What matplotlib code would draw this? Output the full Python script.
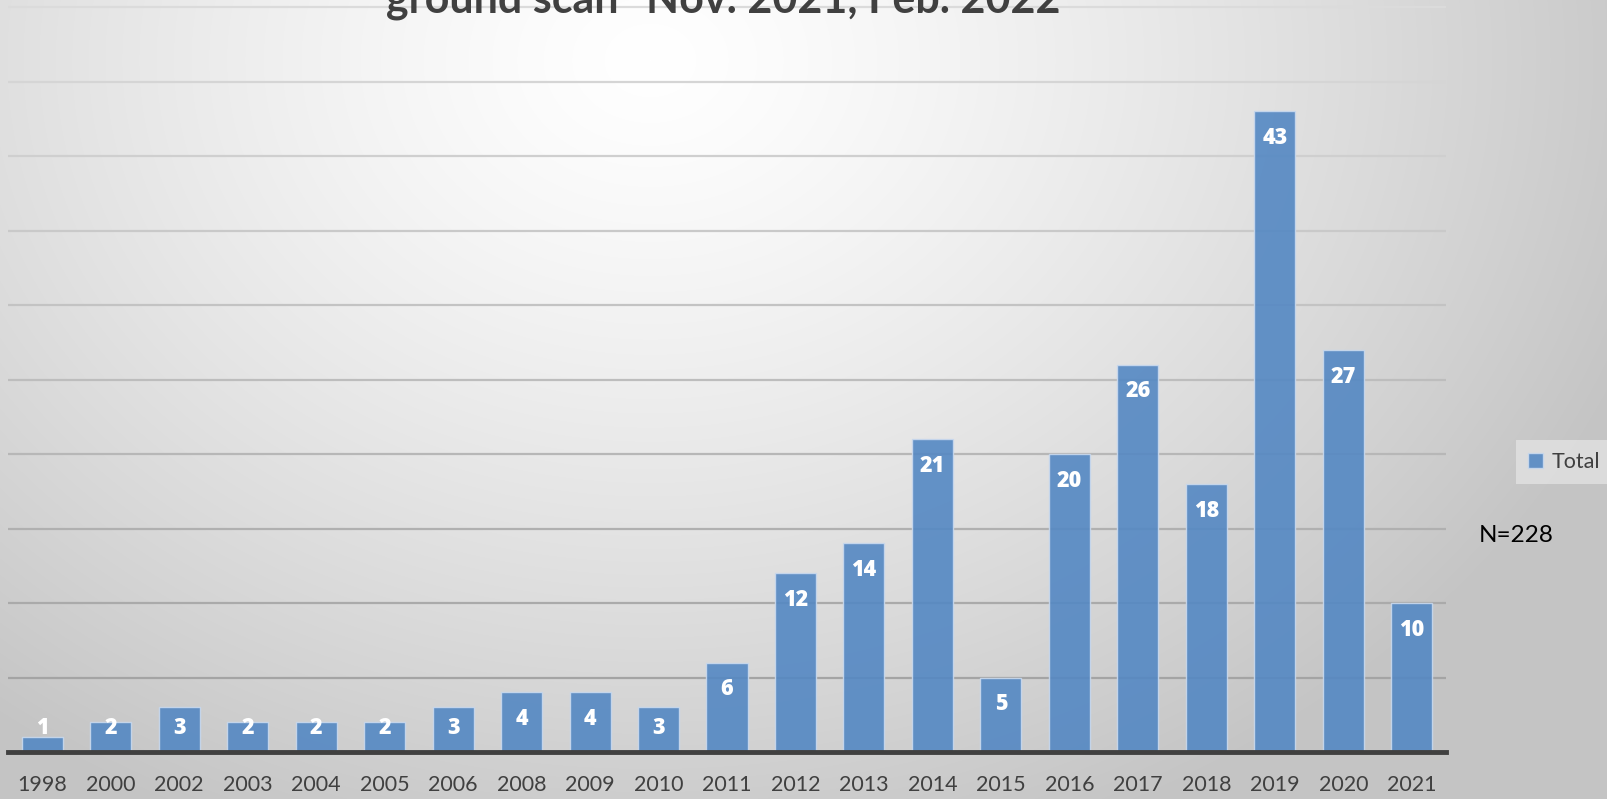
import matplotlib
matplotlib.use("Agg")
import matplotlib.pyplot as plt
import numpy as np

years = ["1998", "2000", "2002", "2003", "2004", "2005", "2006", "2008", "2009", "2010",
         "2011", "2012", "2013", "2014", "2015", "2016", "2017", "2018", "2019", "2020", "2021"]
totals = [1, 2, 3, 2, 2, 2, 3, 4, 4, 3, 6, 12, 14, 21, 5, 20, 26, 18, 43, 27, 10]
grid_levels = [5, 10, 15, 20, 25, 30, 35, 40, 45, 50]
title_text = "ground scan\" Nov. 2021, Feb. 2022"
legend_label = "Total"
note_text = "N=228"

plt.rcParams["font.family"] = ["Lato", "DejaVu Sans"]

fig = plt.figure(figsize=(16.08, 7.99), dpi=100)

# background: soft radial gradient, white near top centre, grey at the edges
bg = fig.add_axes([0, 0, 1, 1], zorder=-10)
h, w = 799, 1608
yy, xx = np.mgrid[0:h, 0:w]
d = np.sqrt(((xx - 650) / 1.0) ** 2 + ((yy - 60) * 1.25) ** 2)
d = np.clip(d / 1050.0, 0, 1)
shade = 1.0 - 0.23 * d ** 1.3
img = np.dstack([shade, shade, shade])
bg.imshow(img, extent=[0, 1, 0, 1], aspect="auto", origin="upper")
bg.axis("off")

ax = fig.add_axes([8 / 1608, 47 / 799, (1446 - 8) / 1608, 752 / 799])
ax.patch.set_alpha(0)
x = np.arange(len(years))
ax.set_xlim(-0.5, len(years) - 0.5)
ax.set_ylim(0, 50.47)

# gridlines get a little darker toward the bottom
for lv in grid_levels:
    g = 0.62 + 0.24 * (lv / 50.0)
    ax.axhline(lv, color=(g, g, g), lw=1.6, zorder=1)

ax.bar(x, totals, width=0.6, color="#5488c3", alpha=0.9,
       edgecolor="#c9d9ee", linewidth=1.0, zorder=2, label=legend_label)

for xi, v in zip(x, totals):
    ax.text(xi, max(v - 1.8, 1.6), str(v), ha="center", va="center",
            color="white", fontweight="heavy", fontsize=15.5, zorder=4,
            family=["Open Sans", "DejaVu Sans"])

ax.axhline(0, color="#404040", lw=3.5, zorder=5, clip_on=False)

ax.set_xticks(x)
ax.set_xticklabels(years, fontsize=15.5, color="#404040")
ax.set_yticks([])
ax.tick_params(axis="x", length=0, pad=16.5)
for s in ax.spines.values():
    s.set_visible(False)

fig.text(723 / 1608, 1 - 13 / 799, title_text, ha="center", va="baseline",
         fontsize=31, fontweight="bold", color="#404040")

leg = fig.legend(loc="center left", bbox_to_anchor=(1516 / 1608, 1 - 462 / 799),
                 frameon=True, fontsize=15.5, handlelength=0.7, handleheight=0.7,
                 handletextpad=0.4, borderpad=0.55, borderaxespad=0, fancybox=False)
leg.get_frame().set_facecolor("#e2e2e2")
leg.get_frame().set_edgecolor("none")
leg.get_frame().set_alpha(0.8)
for t in leg.get_texts():
    t.set_color("#404040")

fig.text(1479 / 1608, 1 - 535 / 799, note_text, ha="left", va="center",
         fontsize=17.5, color="black")

fig.savefig("out.png", dpi=100)
